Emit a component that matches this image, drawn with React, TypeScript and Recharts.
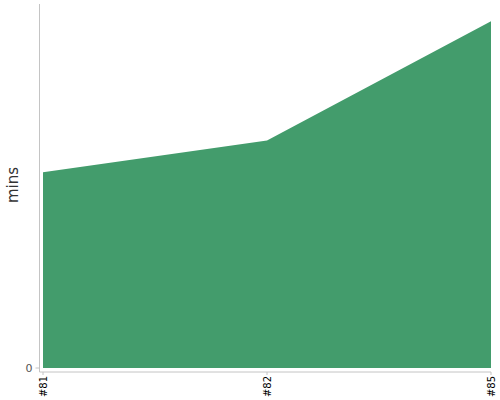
import { Area, AreaChart, XAxis, YAxis } from "recharts";

const builds = ["#81", "#82", "#85"];
const minutes = [56.5, 65.6, 100];
const yDomainMax = 105;
const yTicks = [0];

const data = builds.map((name, i) => ({ name, mins: minutes[i] }));

const font = "DejaVu Sans";
const axisColor = "#c4c4c4";
const fillColor = "#439c6c";

function BuildTick({ x, y, payload }: { x: number; y: number; payload: { value: string } }) {
  return (
    <text
      x={x}
      y={y}
      transform={`rotate(-90, ${x}, ${y})`}
      textAnchor="end"
      dominantBaseline="central"
      style={{ fontSize: 10, fontFamily: font }}
      fill="#000"
    >
      {payload.value}
    </text>
  );
}

function ZeroTick({ x, y, payload }: { x: number; y: number; payload: { value: number } }) {
  return (
    <text
      x={x}
      y={y}
      textAnchor="end"
      dominantBaseline="central"
      style={{ fontSize: 11, fontFamily: font }}
      fill="#555"
    >
      {payload.value}
    </text>
  );
}

function MinsLabel({ viewBox }: { viewBox?: { x: number; y: number; width: number; height: number } }) {
  if (!viewBox) return null;
  const x = viewBox.x + 18;
  const y = viewBox.y + viewBox.height / 2 - 3;
  return (
    <text
      x={x}
      y={y}
      transform={`rotate(-90, ${x}, ${y})`}
      textAnchor="middle"
      style={{ fontSize: 15, fontFamily: font }}
      fill="#333"
    >
      mins
    </text>
  );
}

export default function App() {
  return (
    <div style={{ position: "absolute", left: 0, top: 0, fontFamily: font }}>
      <AreaChart width={500} height={400} data={data} margin={{ top: 4, right: 9, bottom: 0, left: 0 }}>
        <XAxis
          dataKey="name"
          height={28}
          padding={{ left: 3.5, right: 0 }}
          stroke={axisColor}
          tickSize={3}
          tickMargin={1}
          tick={BuildTick}
          interval={0}
        />
        <YAxis
          width={39.5}
          domain={[0, yDomainMax]}
          ticks={yTicks}
          padding={{ top: 0, bottom: 4 }}
          stroke={axisColor}
          tickSize={4}
          tickMargin={3}
          tick={ZeroTick}
          label={<MinsLabel />}
        />
        <Area
          dataKey="mins"
          type="linear"
          stroke="none"
          fill={fillColor}
          fillOpacity={1}
          isAnimationActive={false}
        />
      </AreaChart>
    </div>
  );
}
